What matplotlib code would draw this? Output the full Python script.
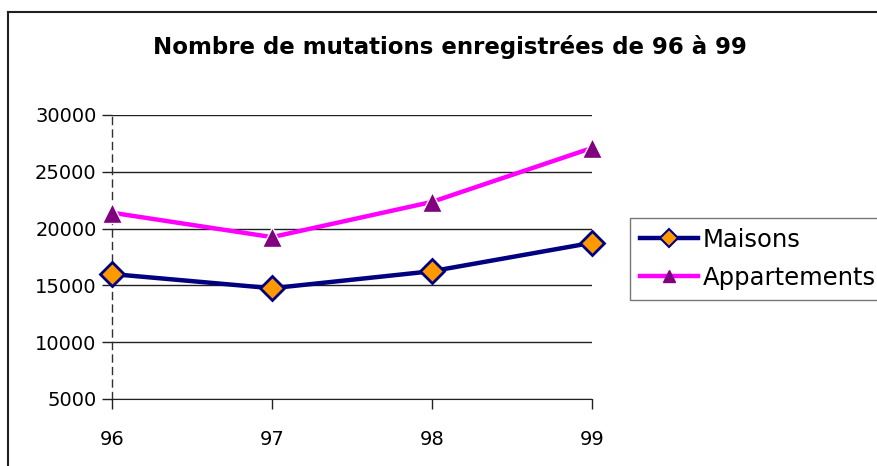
import matplotlib.pyplot as plt
from matplotlib.lines import Line2D

# data
years = [96, 97, 98, 99]
maisons = [16000, 14750, 16250, 18750]
appartements = [21400, 19250, 22350, 27100]
y_ticks = [5000, 10000, 15000, 20000, 25000, 30000]

fig = plt.figure(figsize=(8.78, 4.66), dpi=100, facecolor="white")
ax = fig.add_axes([112 / 878, 1 - 399 / 466, 480 / 878, 284 / 466])

# horizontal gridlines
for yv in y_ticks:
    ax.axhline(yv, color="#202020", lw=1.0, zorder=1)

ax.plot(years, maisons, color="#000080", lw=3.2, marker="D", ms=12,
        mfc="#FF9900", mec="#000080", mew=2, zorder=3, clip_on=False)
ax.plot(years, appartements, color="#FF00FF", lw=3.2, marker="^", ms=15,
        mfc="#800080", mec="white", mew=1, zorder=3, clip_on=False)

ax.set_xlim(96, 99)
ax.set_ylim(5000, 30000)
ax.set_xticks(years)
ax.set_yticks(y_ticks)
ax.tick_params(axis="both", labelsize=14, length=7, width=1, color="#202020")
ax.tick_params(axis="x", pad=15)
ax.tick_params(axis="y", pad=4)

for side in ["top", "right"]:
    ax.spines[side].set_visible(False)
ax.spines["bottom"].set_color("#202020")
ax.spines["left"].set_linestyle((0, (5, 4)))
ax.spines["left"].set_color("#303030")
ax.spines["left"].set_linewidth(1)

# title
fig.text(450 / 878, 1 - 47 / 466, "Nombre de mutations enregistrées de 96 à 99",
         ha="center", va="center", fontsize=16.5, fontweight="bold")

# legend with smaller markers like the original
handles = [
    Line2D([], [], color="#000080", lw=3.2, marker="D", ms=9,
           mfc="#FF9900", mec="#000080", mew=1.5),
    Line2D([], [], color="#FF00FF", lw=3.2, marker="^", ms=8,
           mfc="#800080", mec="#800080"),
]
leg = fig.legend(handles, ["Maisons", "Appartements"], loc="upper left",
                 bbox_to_anchor=(630 / 878, 1 - 218 / 466), fontsize=17.5,
                 frameon=True, fancybox=False, edgecolor="#555555",
                 handlelength=2.4, handletextpad=0.2,
                 labelspacing=0.58, borderaxespad=0, borderpad=0.4)
leg.get_frame().set_linewidth(1)

# outer chart border (top and left edges visible)
fig.add_artist(Line2D([8 / 878, 1], [1 - 12 / 466, 1 - 12 / 466],
                      color="#202020", lw=1.5, transform=fig.transFigure))
fig.add_artist(Line2D([8 / 878, 8 / 878], [0, 1 - 12 / 466],
                      color="#202020", lw=1.5, transform=fig.transFigure))

plt.savefig("out.png", dpi=100)
